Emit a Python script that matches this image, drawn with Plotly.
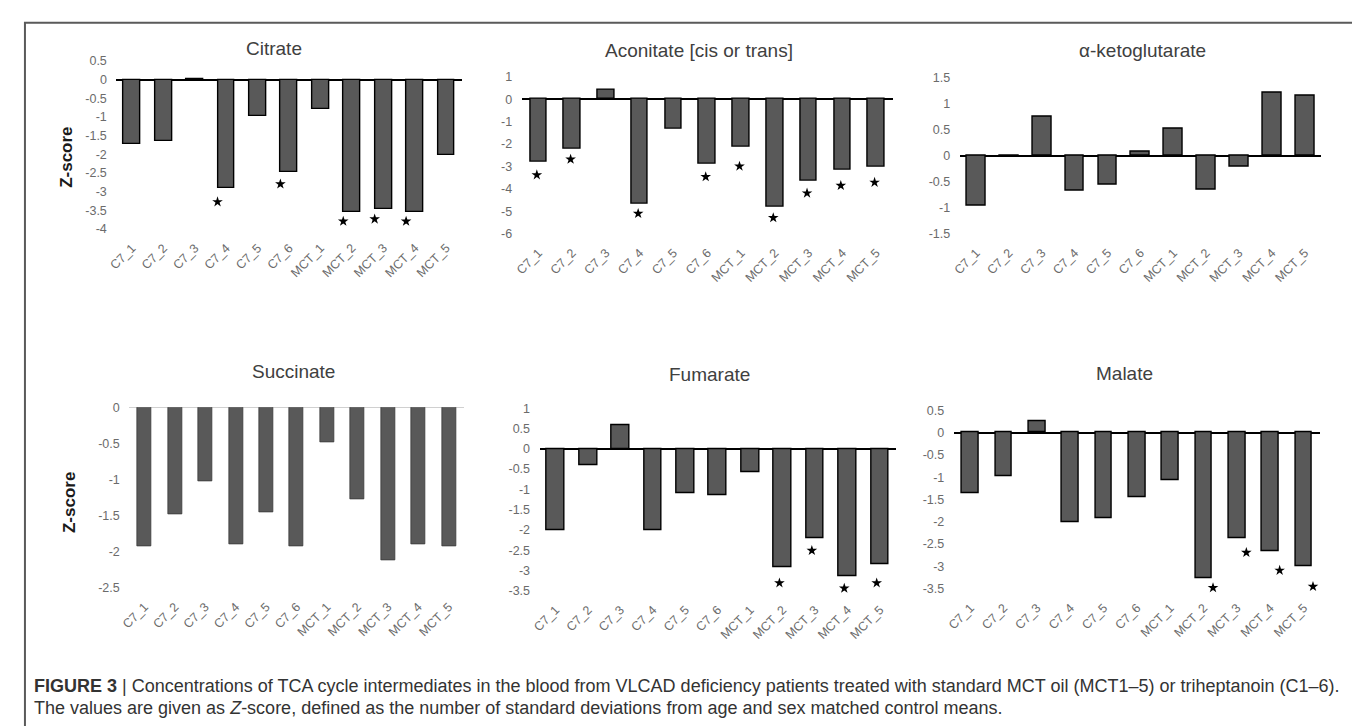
import plotly.graph_objects as go

# ---------------- data ----------------
categories = ["C7_1", "C7_2", "C7_3", "C7_4", "C7_5", "C7_6",
              "MCT_1", "MCT_2", "MCT_3", "MCT_4", "MCT_5"]

titles = ["Citrate", "Aconitate [cis or trans]", "\u03b1-ketoglutarate",
          "Succinate", "Fumarate", "Malate"]

citrate = [-1.73, -1.64, 0.02, -2.91, -0.97, -2.49, -0.79, -3.56, -3.48, -3.56, -2.02]
aconitate = [-2.79, -2.20, 0.40, -4.68, -1.32, -2.87, -2.13, -4.78, -3.65, -3.16, -3.01]
akg = [-0.96, -0.02, 0.75, -0.68, -0.55, 0.07, 0.52, -0.65, -0.21, 1.22, 1.16]
succinate = [-1.92, -1.48, -1.02, -1.90, -1.46, -1.92, -0.48, -1.27, -2.12, -1.90, -1.92]
fumarate = [-2.02, -0.40, 0.57, -2.02, -1.09, -1.15, -0.58, -2.93, -2.20, -3.15, -2.85]
malate = [-1.37, -0.99, 0.26, -2.00, -1.92, -1.44, -1.06, -3.26, -2.36, -2.66, -2.99]

# significance stars: bar index and y position
citrate_star_idx = [3, 5, 7, 8, 9]
citrate_star_y = [-3.28, -2.80, -3.80, -3.74, -3.80]
aconitate_star_idx = [0, 1, 3, 5, 6, 7, 8, 9, 10]
aconitate_star_y = [-3.38, -2.68, -5.10, -3.46, -2.99, -5.29, -4.19, -3.85, -3.71]
akg_star_idx, akg_star_y = [], []
succinate_star_idx, succinate_star_y = [], []
fumarate_star_idx = [7, 8, 9, 10]
fumarate_star_y = [-3.31, -2.51, -3.44, -3.31]
malate_star_idx = [7, 8, 9, 10]
malate_star_y = [-3.48, -2.69, -3.09, -3.45]

citrate_ticks = [0.5, 0, -0.5, -1, -1.5, -2, -2.5, -3, -3.5, -4]
aconitate_ticks = [1, 0, -1, -2, -3, -4, -5, -6]
akg_ticks = [1.5, 1, 0.5, 0, -0.5, -1, -1.5]
succinate_ticks = [0, -0.5, -1, -1.5, -2, -2.5]
fumarate_ticks = [1, 0.5, 0, -0.5, -1, -1.5, -2, -2.5, -3, -3.5]
malate_ticks = [0.5, 0, -0.5, -1, -1.5, -2, -2.5, -3, -3.5]

caption_1 = ("<b>FIGURE 3</b> | Concentrations of TCA cycle intermediates in the blood from VLCAD "
             "deficiency patients treated with standard MCT oil (MCT1\u20135) or triheptanoin (C1\u20136).")
caption_2 = ("The values are given as <i>Z</i>-score, defined as the number of standard deviations "
             "from age and sex matched control means.")

values = [citrate, aconitate, akg, succinate, fumarate, malate]
star_idx = [citrate_star_idx, aconitate_star_idx, akg_star_idx,
            succinate_star_idx, fumarate_star_idx, malate_star_idx]
star_y = [citrate_star_y, aconitate_star_y, akg_star_y,
          succinate_star_y, fumarate_star_y, malate_star_y]
ticks = [citrate_ticks, aconitate_ticks, akg_ticks,
         succinate_ticks, fumarate_ticks, malate_ticks]

# ---------------- layout / style ----------------
W, H = 1360, 726
FONT = "Liberation Sans, Arial, sans-serif"

# plot areas in pixels: (left, right, top, bottom)
boxes = [(100, 448, 47, 218), (508, 882, 63, 223), (949, 1313, 64, 223),
         (113, 450, 400, 584), (526, 885, 401, 587), (943, 1312, 403, 585)]
title_pos = [(259, 34), (687, 36), (1133, 36), (278, 364), (697, 367), (1115, 366)]
bar_widths = [0.54, 0.49, 0.57, 0.46, 0.55, 0.5]
star_dx = [-0.28, -0.05, 0, 0, -0.1, 0.28]
outline = [("black", 1.4)] * 3 + [("#3a3a3a", 0.8)] + [("black", 1.4)] * 2
zeroline_style = [("black", 1.5)] * 3 + [("#d0d0d0", 1)] + [("black", 1.5)] * 2


def px_x(p):
    return p / W


def px_y(p):
    return 1 - p / H


fig = go.Figure()
layout = dict(
    width=W, height=H,
    margin=dict(l=0, r=0, t=0, b=0),
    paper_bgcolor="white", plot_bgcolor="white",
    showlegend=False,
    font=dict(family=FONT),
    bargap=0,
)
annotations = []

for i in range(6):
    n = "" if i == 0 else str(i + 1)
    xa, ya = "x" + n, "y" + n
    l, r, t, b = boxes[i]
    lc, lw = outline[i]
    fig.add_trace(go.Bar(
        x=list(range(len(categories))), y=values[i], xaxis=xa, yaxis=ya,
        width=bar_widths[i],
        marker=dict(color="#595959", line=dict(color=lc, width=lw)),
        hoverinfo="skip",
    ))
    if star_idx[i]:
        fig.add_trace(go.Scatter(
            x=[k + star_dx[i] for k in star_idx[i]], y=star_y[i],
            xaxis=xa, yaxis=ya, mode="markers",
            marker=dict(symbol="star", size=8, color="black"),
            cliponaxis=False, hoverinfo="skip",
        ))
    zc, zw = zeroline_style[i]
    layout["xaxis" + n] = dict(
        domain=[px_x(l), px_x(r)], anchor=ya, range=[-0.5, len(categories) - 0.5],
        tickmode="array", tickvals=list(range(len(categories))), ticktext=categories,
        tickangle=-45, showgrid=False, zeroline=False, showline=False,
        ticks="outside", ticklen=6, tickcolor="rgba(0,0,0,0)",
        tickfont=dict(family=FONT, size=12.5, color="#6b6b6b"),
    )
    tv = ticks[i]
    layout["yaxis" + n] = dict(
        domain=[px_y(b), px_y(t)], anchor=xa, range=[min(tv), max(tv)],
        tickmode="array", tickvals=tv, ticktext=[f"{v:g}" for v in tv],
        showgrid=False, showline=False,
        zeroline=True, zerolinecolor=zc, zerolinewidth=zw,
        ticks="outside", ticklen=6, tickcolor="rgba(0,0,0,0)",
        tickfont=dict(family=FONT, size=12.5, color="#6b6b6b"),
    )
    tx, ty = title_pos[i]
    annotations.append(dict(
        text=titles[i], x=px_x(tx), y=px_y(ty), xref="paper", yref="paper",
        showarrow=False, xanchor="center", yanchor="middle",
        font=dict(family=FONT, size=19, color="#404040"),
    ))

# Z-score axis titles
for (zx, zy) in [(50, 145), (53, 497)]:
    annotations.append(dict(
        text="<b>Z-score</b>", x=px_x(zx), y=px_y(zy), xref="paper", yref="paper",
        showarrow=False, textangle=-90, xanchor="center", yanchor="middle",
        font=dict(family=FONT, size=17, color="#1a1a1a"),
    ))

# caption
annotations.append(dict(
    text=caption_1, x=px_x(15), y=px_y(684), xref="paper", yref="paper",
    showarrow=False, xanchor="left", yanchor="middle",
    font=dict(family=FONT, size=18, color="#333333"),
))
annotations.append(dict(
    text=caption_2, x=px_x(15), y=px_y(707), xref="paper", yref="paper",
    showarrow=False, xanchor="left", yanchor="middle",
    font=dict(family=FONT, size=18, color="#333333"),
))

layout["annotations"] = annotations
layout["shapes"] = [dict(
    type="rect", xref="paper", yref="paper",
    x0=px_x(8), x1=px_x(1354), y0=px_y(740), y1=px_y(8),
    line=dict(color="#5a5a5a", width=2), fillcolor="rgba(0,0,0,0)", layer="below",
)]

fig.update_layout(**layout)
fig.write_html("out.html")
